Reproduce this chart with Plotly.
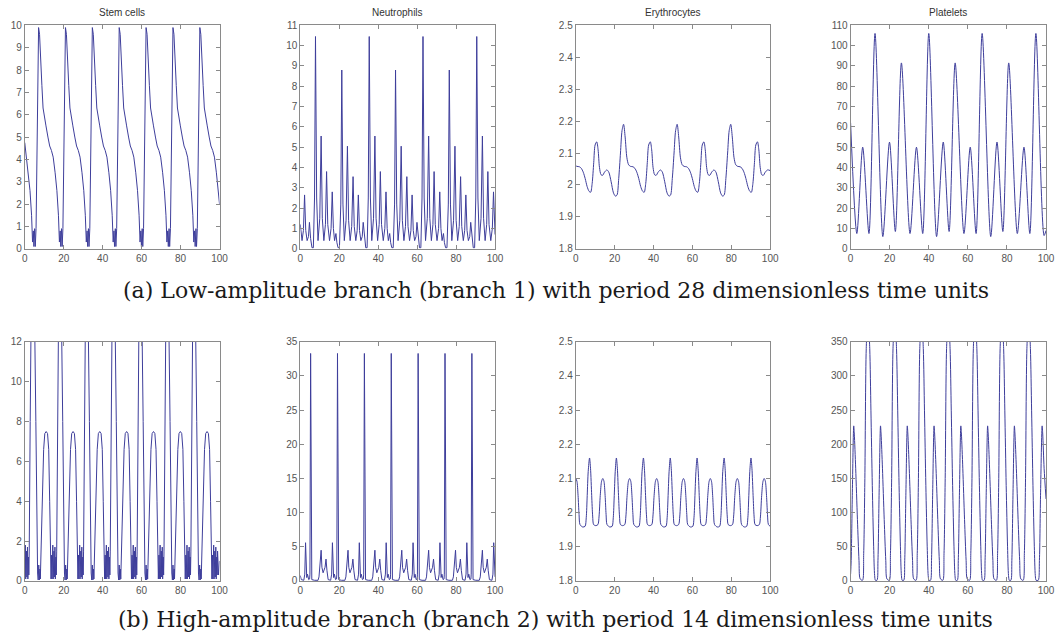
import plotly.graph_objects as go

# ---------------- data ----------------
# (a) Stem cells
a1_x = [0, 0.8, 1.8, 2.7, 3.5, 4.0, 4.4, 4.7, 5.1, 5.4, 5.8, 6.3, 6.7,
        7.1, 7.6, 8.2, 8.8, 9.4, 10.1, 10.9, 11.9, 12.8, 13.7, 14.6, 15.6, 16.5, 17.3, 17.8, 18.2, 18.5, 18.9, 19.2, 19.6, 20.1, 20.5,
        20.9, 21.4, 22.0, 22.6, 23.2, 23.9, 24.7, 25.7, 26.6, 27.5, 28.4, 29.4, 30.3, 31.1, 31.6, 32.0, 32.3, 32.7, 33.0, 33.4, 33.9, 34.3,
        34.7, 35.2, 35.8, 36.4, 37.0, 37.7, 38.5, 39.5, 40.4, 41.3, 42.2, 43.2, 44.1, 44.9, 45.4, 45.8, 46.1, 46.5, 46.8, 47.2, 47.7, 48.1,
        48.5, 49.0, 49.6, 50.2, 50.8, 51.5, 52.3, 53.3, 54.2, 55.1, 56.0, 57.0, 57.9, 58.7, 59.2, 59.6, 59.9, 60.3, 60.6, 61.0, 61.5, 61.9,
        62.3, 62.8, 63.4, 64.0, 64.6, 65.3, 66.1, 67.1, 68.0, 68.9, 69.8, 70.8, 71.7, 72.5, 73.0, 73.4, 73.7, 74.1, 74.4, 74.8, 75.3, 75.7,
        76.1, 76.6, 77.2, 77.8, 78.4, 79.1, 79.9, 80.9, 81.8, 82.7, 83.6, 84.6, 85.5, 86.3, 86.8, 87.2, 87.5, 87.9, 88.2, 88.6, 89.1, 89.5,
        89.9, 90.4, 91.0, 91.6, 92.2, 92.9, 93.7, 94.7, 95.6, 96.5, 97.4, 98.4, 99.3, 100.0]
a1_y = [4.75, 4.1, 3.4, 2.6, 1.5, 0.3, 0.8, 0.1, 0.9, 0.1, 0.9, 4.5, 8.3,
        9.9, 9.6, 8.7, 7.3, 6.3, 5.8, 5.5, 5.0, 4.6, 4.4, 4.1, 3.4, 2.6, 1.5, 0.3, 0.8, 0.1, 0.9, 0.1, 0.9, 4.5, 8.3,
        9.9, 9.6, 8.7, 7.3, 6.3, 5.8, 5.5, 5.0, 4.6, 4.4, 4.1, 3.4, 2.6, 1.5, 0.3, 0.8, 0.1, 0.9, 0.1, 0.9, 4.5, 8.3,
        9.9, 9.6, 8.7, 7.3, 6.3, 5.8, 5.5, 5.0, 4.6, 4.4, 4.1, 3.4, 2.6, 1.5, 0.3, 0.8, 0.1, 0.9, 0.1, 0.9, 4.5, 8.3,
        9.9, 9.6, 8.7, 7.3, 6.3, 5.8, 5.5, 5.0, 4.6, 4.4, 4.1, 3.4, 2.6, 1.5, 0.3, 0.8, 0.1, 0.9, 0.1, 0.9, 4.5, 8.3,
        9.9, 9.6, 8.7, 7.3, 6.3, 5.8, 5.5, 5.0, 4.6, 4.4, 4.1, 3.4, 2.6, 1.5, 0.3, 0.8, 0.1, 0.9, 0.1, 0.9, 4.5, 8.3,
        9.9, 9.6, 8.7, 7.3, 6.3, 5.8, 5.5, 5.0, 4.6, 4.4, 4.1, 3.4, 2.6, 1.5, 0.3, 0.8, 0.1, 0.9, 0.1, 0.9, 4.5, 8.3,
        9.9, 9.6, 8.7, 7.3, 6.3, 5.8, 5.5, 5.0, 4.6, 4.4, 4.1, 3.4, 2.6, 2.0]

# (a) Neutrophils
a2_x = [0, 0.9, 1.6, 2.2, 2.8, 3.5, 4.2, 4.7, 5.3, 6.0, 6.7, 7.3,
        7.8, 8.4, 9.1, 10.0, 10.7, 11.3, 12.1, 12.9, 13.5, 14.1, 15.0, 15.8, 16.4, 17.0, 17.6, 18.3, 18.8, 19.4, 20.1, 20.8,
        21.3, 21.9, 22.6, 23.5, 24.2, 24.8, 25.6, 26.4, 27.1, 27.7, 28.5, 29.2, 29.8, 30.4, 31.1, 31.8, 32.3, 32.9, 33.6, 34.3, 34.9,
        35.4, 36.0, 36.7, 37.6, 38.3, 38.9, 39.7, 40.5, 41.1, 41.7, 42.6, 43.4, 44.0, 44.6, 45.2, 45.9, 46.4, 47.0, 47.7, 48.4,
        48.9, 49.5, 50.2, 51.1, 51.8, 52.4, 53.2, 54.0, 54.7, 55.3, 56.1, 56.8, 57.4, 58.0, 58.7, 59.4, 59.9, 60.5, 61.2, 61.9, 62.5,
        63.0, 63.6, 64.3, 65.2, 65.9, 66.5, 67.3, 68.1, 68.7, 69.3, 70.2, 71.0, 71.6, 72.2, 72.8, 73.5, 74.0, 74.6, 75.3, 76.0,
        76.5, 77.1, 77.8, 78.7, 79.4, 80.0, 80.8, 81.6, 82.3, 82.9, 83.7, 84.4, 85.0, 85.6, 86.3, 87.0, 87.5, 88.1, 88.8, 89.5, 90.1,
        90.6, 91.2, 91.9, 92.8, 93.5, 94.1, 94.9, 95.7, 96.3, 96.9, 97.8, 98.6, 99.2, 99.8, 100.0]
a2_y = [1.2, 0.4, 0.9, 2.65, 0.9, 0.4, 0.6, 1.3, 0.5, 0.05, 0.05, 2.5,
        10.45, 2.5, 0.4, 1.5, 5.55, 1.5, 0.4, 1.2, 3.8, 1.2, 0.4, 1.0, 2.8, 1.0, 0.4, 0.75, 0.3, 0.05, 0.05, 2.2,
        8.8, 2.2, 0.4, 1.4, 5.05, 1.4, 0.4, 1.1, 3.55, 1.1, 0.4, 0.9, 2.65, 0.9, 0.4, 0.6, 1.3, 0.5, 0.05, 0.05, 2.5,
        10.45, 2.5, 0.4, 1.5, 5.55, 1.5, 0.4, 1.2, 3.8, 1.2, 0.4, 1.0, 2.8, 1.0, 0.4, 0.75, 0.3, 0.05, 0.05, 2.2,
        8.8, 2.2, 0.4, 1.4, 5.05, 1.4, 0.4, 1.1, 3.55, 1.1, 0.4, 0.9, 2.65, 0.9, 0.4, 0.6, 1.3, 0.5, 0.05, 0.05, 2.5,
        10.45, 2.5, 0.4, 1.5, 5.55, 1.5, 0.4, 1.2, 3.8, 1.2, 0.4, 1.0, 2.8, 1.0, 0.4, 0.75, 0.3, 0.05, 0.05, 2.2,
        8.8, 2.2, 0.4, 1.4, 5.05, 1.4, 0.4, 1.1, 3.55, 1.1, 0.4, 0.9, 2.65, 0.9, 0.4, 0.6, 1.3, 0.5, 0.05, 0.05, 2.5,
        10.45, 2.5, 0.4, 1.5, 5.55, 1.5, 0.4, 1.2, 3.8, 1.2, 0.4, 1.0, 2.8, 1.0, 0.7]

# (a) Erythrocytes
a3_x = [0, 0.65, 1.85, 2.85, 3.85, 4.85, 5.85, 6.85, 7.65, 8.45, 9.25, 9.95,
        10.8, 11.5, 12.2, 13.0, 13.8, 14.8, 16.0, 17.0, 18.2, 19.4, 20.4, 21.2, 22.1, 23.0, 23.8,
        24.6, 25.4, 26.3, 27.2, 28.2, 29.4, 30.4, 31.4, 32.4, 33.4, 34.4, 35.2, 36.0, 36.8, 37.5,
        38.35, 39.05, 39.75, 40.55, 41.35, 42.35, 43.55, 44.55, 45.75, 46.95, 47.95, 48.75, 49.65, 50.55, 51.35,
        52.15, 52.95, 53.85, 54.75, 55.75, 56.95, 57.95, 58.95, 59.95, 60.95, 61.95, 62.75, 63.55, 64.35, 65.05,
        65.9, 66.6, 67.3, 68.1, 68.9, 69.9, 71.1, 72.1, 73.3, 74.5, 75.5, 76.3, 77.2, 78.1, 78.9,
        79.7, 80.5, 81.4, 82.3, 83.3, 84.5, 85.5, 86.5, 87.5, 88.5, 89.5, 90.3, 91.1, 91.9, 92.6,
        93.45, 94.15, 94.85, 95.65, 96.45, 97.45, 98.65, 100.0]
a3_y = [2.06, 2.058, 2.057, 2.052, 2.04, 2.02, 1.995, 1.98, 1.977, 2.005, 2.07, 2.125,
        2.135, 2.11, 2.055, 2.032, 2.03, 2.04, 2.047, 2.04, 2.01, 1.975, 1.965, 1.968, 2.02, 2.1, 2.17,
        2.19, 2.15, 2.085, 2.063, 2.058, 2.057, 2.052, 2.04, 2.02, 1.995, 1.98, 1.977, 2.005, 2.07, 2.125,
        2.135, 2.11, 2.055, 2.032, 2.03, 2.04, 2.047, 2.04, 2.01, 1.975, 1.965, 1.968, 2.02, 2.1, 2.17,
        2.19, 2.15, 2.085, 2.063, 2.058, 2.057, 2.052, 2.04, 2.02, 1.995, 1.98, 1.977, 2.005, 2.07, 2.125,
        2.135, 2.11, 2.055, 2.032, 2.03, 2.04, 2.047, 2.04, 2.01, 1.975, 1.965, 1.968, 2.02, 2.1, 2.17,
        2.19, 2.15, 2.085, 2.063, 2.058, 2.057, 2.052, 2.04, 2.02, 1.995, 1.98, 1.977, 2.005, 2.07, 2.125,
        2.135, 2.11, 2.055, 2.032, 2.03, 2.04, 2.047, 2.045]

# (a) Platelets
a4_x = [0, 3.2, 6.2, 9.4, 12.5, 16.5, 19.9, 22.9, 26.0, 30.4, 33.7, 36.9, 40.0, 44.0, 47.4, 50.4,
        53.5, 58.0, 61.2, 64.2, 67.3, 71.7, 74.9, 77.9, 80.9, 85.3, 88.7, 91.7, 94.8, 99.0, 100.0]
a4_y = [62, 7.5, 50, 7.5, 106, 6, 52.5, 8.5, 91.5, 7.5, 50, 7.5, 106, 6, 52.5, 8.5,
        91.5, 7.5, 50, 7.5, 106, 6, 52.5, 8.5, 91.5, 7.5, 50, 7.5, 106, 6.5, 9]

# (b) Stem cells
b1_x = [0, 0.3, 0.5, 0.9, 1.1, 1.4, 1.6, 1.9, 2.1, 2.3, 2.8, 3.15,
        4.4, 5.2, 5.7, 6.2, 6.6, 6.9, 7.2, 7.5, 7.8, 8.0, 8.4, 8.6, 8.8, 9.2, 9.7, 10.3, 11.0, 11.7, 12.3, 12.8, 13.2, 13.5, 13.8, 14.0, 14.4, 14.6, 15.0, 15.2, 15.5, 15.7, 16.0, 16.2, 16.4, 16.9, 17.25,
        18.2, 19.0, 19.5, 20.0, 20.4, 20.7, 21.0, 21.3, 21.6, 21.8, 22.2, 22.4, 22.6, 23.0, 23.5, 24.1, 24.8, 25.5, 26.1, 26.6, 27.0, 27.3, 27.6, 27.8, 28.2, 28.4, 28.8, 29.0, 29.3, 29.5, 29.8, 30.0, 30.2, 30.7, 31.05,
        31.9, 32.7, 33.2, 33.7, 34.1, 34.4, 34.7, 35.0, 35.3, 35.5, 35.9, 36.1, 36.3, 36.7, 37.2, 37.8, 38.5, 39.2, 39.8, 40.3, 40.7, 41.0, 41.3, 41.5, 41.9, 42.1, 42.5, 42.7, 43.0, 43.2, 43.5, 43.7, 43.9, 44.4, 44.75,
        45.7, 46.5, 47.0, 47.5, 47.9, 48.2, 48.5, 48.8, 49.1, 49.3, 49.7, 49.9, 50.1, 50.5, 51.0, 51.6, 52.3, 53.0, 53.6, 54.1, 54.5, 54.8, 55.1, 55.3, 55.7, 55.9, 56.3, 56.5, 56.8, 57.0, 57.3, 57.5, 57.7, 58.2, 58.55,
        59.5, 60.3, 60.8, 61.3, 61.7, 62.0, 62.3, 62.6, 62.9, 63.1, 63.5, 63.7, 63.9, 64.3, 64.8, 65.4, 66.1, 66.8, 67.4, 67.9, 68.3, 68.6, 68.9, 69.1, 69.5, 69.7, 70.1, 70.3, 70.6, 70.8, 71.1, 71.3, 71.5, 72.0, 72.35,
        73.3, 74.1, 74.6, 75.1, 75.5, 75.8, 76.1, 76.4, 76.7, 76.9, 77.3, 77.5, 77.7, 78.1, 78.6, 79.2, 79.9, 80.6, 81.2, 81.7, 82.1, 82.4, 82.7, 82.9, 83.3, 83.5, 83.9, 84.1, 84.4, 84.6, 84.9, 85.1, 85.3, 85.8, 86.15,
        87.0, 87.8, 88.3, 88.8, 89.2, 89.5, 89.8, 90.1, 90.4, 90.6, 91.0, 91.2, 91.4, 91.8, 92.3, 92.9, 93.6, 94.3, 94.9, 95.4, 95.8, 96.1, 96.4, 96.6, 97.0, 97.2, 97.6, 97.8, 98.1, 98.3, 98.6, 98.8, 99.0, 99.5, 100.0]
b1_y = [0.3, 1.8, 0.1, 1.5, 0.2, 1.7, 0.1, 1.2, 0.3, 1.5, 8, 12,
        13.5, 12, 8, 3, 0.4, 0.05, 0.8, 0.05, 0.6, 0.1, 1.8, 2.3, 2.2, 4.5, 6.6, 7.4, 7.5, 7.4, 6.6, 4.0, 1.0, 0.1, 1.3, 0.1, 1.8, 0.1, 1.5, 0.2, 1.7, 0.1, 1.2, 0.3, 1.5, 8, 12,
        13.5, 12, 8, 3, 0.4, 0.05, 0.8, 0.05, 0.6, 0.1, 1.8, 2.3, 2.2, 4.5, 6.6, 7.4, 7.5, 7.4, 6.6, 4.0, 1.0, 0.1, 1.3, 0.1, 1.8, 0.1, 1.5, 0.2, 1.7, 0.1, 1.2, 0.3, 1.5, 8, 12,
        13.5, 12, 8, 3, 0.4, 0.05, 0.8, 0.05, 0.6, 0.1, 1.8, 2.3, 2.2, 4.5, 6.6, 7.4, 7.5, 7.4, 6.6, 4.0, 1.0, 0.1, 1.3, 0.1, 1.8, 0.1, 1.5, 0.2, 1.7, 0.1, 1.2, 0.3, 1.5, 8, 12,
        13.5, 12, 8, 3, 0.4, 0.05, 0.8, 0.05, 0.6, 0.1, 1.8, 2.3, 2.2, 4.5, 6.6, 7.4, 7.5, 7.4, 6.6, 4.0, 1.0, 0.1, 1.3, 0.1, 1.8, 0.1, 1.5, 0.2, 1.7, 0.1, 1.2, 0.3, 1.5, 8, 12,
        13.5, 12, 8, 3, 0.4, 0.05, 0.8, 0.05, 0.6, 0.1, 1.8, 2.3, 2.2, 4.5, 6.6, 7.4, 7.5, 7.4, 6.6, 4.0, 1.0, 0.1, 1.3, 0.1, 1.8, 0.1, 1.5, 0.2, 1.7, 0.1, 1.2, 0.3, 1.5, 8, 12,
        13.5, 12, 8, 3, 0.4, 0.05, 0.8, 0.05, 0.6, 0.1, 1.8, 2.3, 2.2, 4.5, 6.6, 7.4, 7.5, 7.4, 6.6, 4.0, 1.0, 0.1, 1.3, 0.1, 1.8, 0.1, 1.5, 0.2, 1.7, 0.1, 1.2, 0.3, 1.5, 8, 12,
        13.5, 12, 8, 3, 0.4, 0.05, 0.8, 0.05, 0.6, 0.1, 1.8, 2.3, 2.2, 4.5, 6.6, 7.4, 7.5, 7.4, 6.6, 4.0, 1.0, 0.1, 1.3, 0.1, 1.8, 0.1, 1.5, 0.2, 1.7, 0.1, 1.2, 0.3, 1.5, 0.3, 1.0]

# (b) Neutrophils
b2_x = [0, 0.5, 1.8, 2.3, 2.7, 3.0, 3.3, 3.7, 4.3, 4.8, 4.95,
        5.3, 5.65, 5.9, 7.3, 9.1, 9.6, 10.0, 10.3, 10.7, 11.1, 11.7, 12.7, 13.2, 13.7, 14.3, 15.6, 16.1, 16.5, 16.8, 17.1, 17.5, 18.1, 18.6, 18.75,
        19.1, 19.45, 19.7, 21.1, 22.9, 23.4, 23.8, 24.1, 24.5, 24.9, 25.5, 26.5, 27.0, 27.5, 28.1, 29.4, 29.9, 30.3, 30.6, 30.9, 31.3, 31.9, 32.4, 32.55,
        32.9, 33.25, 33.5, 34.9, 36.7, 37.2, 37.6, 37.9, 38.3, 38.7, 39.3, 40.3, 40.8, 41.3, 41.9, 43.2, 43.7, 44.1, 44.4, 44.7, 45.1, 45.7, 46.2, 46.35,
        46.7, 47.05, 47.3, 48.7, 50.5, 51.0, 51.4, 51.7, 52.1, 52.5, 53.1, 54.1, 54.6, 55.1, 55.7, 57.0, 57.5, 57.9, 58.2, 58.5, 58.9, 59.5, 60.0, 60.15,
        60.5, 60.85, 61.1, 62.5, 64.3, 64.8, 65.2, 65.5, 65.9, 66.3, 66.9, 67.9, 68.4, 68.9, 69.5, 70.8, 71.3, 71.7, 72.0, 72.3, 72.7, 73.3, 73.8, 73.95,
        74.3, 74.65, 74.9, 76.3, 78.1, 78.6, 79.0, 79.3, 79.7, 80.1, 80.7, 81.7, 82.2, 82.7, 83.3, 84.6, 85.1, 85.5, 85.8, 86.1, 86.5, 87.1, 87.6, 87.75,
        88.1, 88.45, 88.7, 90.1, 91.9, 92.4, 92.8, 93.1, 93.5, 93.9, 94.5, 95.5, 96.0, 96.5, 97.1, 98.4, 98.9, 99.3, 99.6, 100.0]
b2_y = [0.8, 0.2, 0.1, 1.0, 5.6, 1.0, 0.5, 1.0, 0.2, 0.3, 1.0,
        33.3, 1.0, 0.2, 0.1, 0.1, 0.6, 1.9, 2.2, 4.5, 2.0, 1.2, 2.0, 3.2, 1.5, 0.2, 0.1, 1.0, 5.6, 1.0, 0.5, 1.0, 0.2, 0.3, 1.0,
        33.3, 1.0, 0.2, 0.1, 0.1, 0.6, 1.9, 2.2, 4.5, 2.0, 1.2, 2.0, 3.2, 1.5, 0.2, 0.1, 1.0, 5.6, 1.0, 0.5, 1.0, 0.2, 0.3, 1.0,
        33.3, 1.0, 0.2, 0.1, 0.1, 0.6, 1.9, 2.2, 4.5, 2.0, 1.2, 2.0, 3.2, 1.5, 0.2, 0.1, 1.0, 5.6, 1.0, 0.5, 1.0, 0.2, 0.3, 1.0,
        33.3, 1.0, 0.2, 0.1, 0.1, 0.6, 1.9, 2.2, 4.5, 2.0, 1.2, 2.0, 3.2, 1.5, 0.2, 0.1, 1.0, 5.6, 1.0, 0.5, 1.0, 0.2, 0.3, 1.0,
        33.3, 1.0, 0.2, 0.1, 0.1, 0.6, 1.9, 2.2, 4.5, 2.0, 1.2, 2.0, 3.2, 1.5, 0.2, 0.1, 1.0, 5.6, 1.0, 0.5, 1.0, 0.2, 0.3, 1.0,
        33.3, 1.0, 0.2, 0.1, 0.1, 0.6, 1.9, 2.2, 4.5, 2.0, 1.2, 2.0, 3.2, 1.5, 0.2, 0.1, 1.0, 5.6, 1.0, 0.5, 1.0, 0.2, 0.3, 1.0,
        33.3, 1.0, 0.2, 0.1, 0.1, 0.6, 1.9, 2.2, 4.5, 2.0, 1.2, 2.0, 3.2, 1.5, 0.2, 0.1, 1.0, 5.6, 1.0, 0.6]

# (b) Erythrocytes
b3_x = [0, 0.6, 1.2, 1.7, 2.2, 3.6, 4.8, 5.4, 5.9, 6.4,
        7.1, 7.6, 8.2, 8.7, 9.2, 10.3, 11.4, 12.0, 12.6, 13.3, 13.9, 14.5, 15.1, 15.6, 16.1, 17.5, 18.7, 19.3, 19.8, 20.3,
        20.9, 21.4, 22.0, 22.5, 23.0, 24.1, 25.2, 25.8, 26.4, 27.1, 27.7, 28.3, 28.9, 29.4, 29.9, 31.3, 32.5, 33.1, 33.6, 34.1,
        34.8, 35.3, 35.9, 36.4, 36.9, 38.0, 39.1, 39.7, 40.3, 41.0, 41.6, 42.2, 42.8, 43.3, 43.8, 45.2, 46.4, 47.0, 47.5, 48.0,
        48.6, 49.1, 49.7, 50.2, 50.7, 51.8, 52.9, 53.5, 54.1, 54.8, 55.4, 56.0, 56.6, 57.1, 57.6, 59.0, 60.2, 60.8, 61.3, 61.8,
        62.4, 62.9, 63.5, 64.0, 64.5, 65.6, 66.7, 67.3, 67.9, 68.6, 69.2, 69.8, 70.4, 70.9, 71.4, 72.8, 74.0, 74.6, 75.1, 75.6,
        76.3, 76.8, 77.4, 77.9, 78.4, 79.5, 80.6, 81.2, 81.8, 82.5, 83.1, 83.7, 84.3, 84.8, 85.3, 86.7, 87.9, 88.5, 89.0, 89.5,
        90.1, 90.6, 91.2, 91.7, 92.2, 93.3, 94.4, 95.0, 95.6, 96.3, 96.9, 97.5, 98.1, 98.6, 99.1, 100.0]
b3_y = [2.10, 2.092, 2.05, 1.995, 1.965, 1.958, 1.96, 1.985, 2.05, 2.12,
        2.16, 2.13, 2.05, 1.99, 1.965, 1.962, 1.965, 1.99, 2.05, 2.092, 2.10, 2.092, 2.05, 1.995, 1.965, 1.958, 1.96, 1.985, 2.05, 2.12,
        2.16, 2.13, 2.05, 1.99, 1.965, 1.962, 1.965, 1.99, 2.05, 2.092, 2.10, 2.092, 2.05, 1.995, 1.965, 1.958, 1.96, 1.985, 2.05, 2.12,
        2.16, 2.13, 2.05, 1.99, 1.965, 1.962, 1.965, 1.99, 2.05, 2.092, 2.10, 2.092, 2.05, 1.995, 1.965, 1.958, 1.96, 1.985, 2.05, 2.12,
        2.16, 2.13, 2.05, 1.99, 1.965, 1.962, 1.965, 1.99, 2.05, 2.092, 2.10, 2.092, 2.05, 1.995, 1.965, 1.958, 1.96, 1.985, 2.05, 2.12,
        2.16, 2.13, 2.05, 1.99, 1.965, 1.962, 1.965, 1.99, 2.05, 2.092, 2.10, 2.092, 2.05, 1.995, 1.965, 1.958, 1.96, 1.985, 2.05, 2.12,
        2.16, 2.13, 2.05, 1.99, 1.965, 1.962, 1.965, 1.99, 2.05, 2.092, 2.10, 2.092, 2.05, 1.995, 1.965, 1.958, 1.96, 1.985, 2.05, 2.12,
        2.16, 2.13, 2.05, 1.99, 1.965, 1.962, 1.965, 1.99, 2.05, 2.092, 2.10, 2.092, 2.05, 1.995, 1.965, 1.96]

# (b) Platelets
b4_x = [0, 0.3, 0.9, 1.6, 1.9, 2.6, 3.5, 4.3, 4.9, 6.1, 6.7, 7.3, 8.0,
        8.9, 9.8, 10.4, 11.1, 11.8, 12.3, 12.7, 13.5, 14.0, 14.6, 15.3, 15.6, 16.3, 17.2, 18.0, 18.6, 19.8, 20.4, 21.0, 21.7,
        22.6, 23.5, 24.1, 24.8, 25.5, 26.0, 26.4, 27.2, 27.7, 28.3, 29.0, 29.3, 30.0, 30.9, 31.7, 32.3, 33.5, 34.1, 34.7, 35.4,
        36.3, 37.2, 37.8, 38.5, 39.2, 39.7, 40.1, 40.9, 41.4, 42.0, 42.7, 43.0, 43.7, 44.6, 45.4, 46.0, 47.2, 47.8, 48.4, 49.1,
        50.0, 50.9, 51.5, 52.2, 52.9, 53.4, 53.8, 54.6, 55.1, 55.7, 56.4, 56.7, 57.4, 58.3, 59.1, 59.7, 60.9, 61.5, 62.1, 62.8,
        63.7, 64.6, 65.2, 65.9, 66.6, 67.1, 67.5, 68.3, 68.8, 69.4, 70.1, 70.4, 71.1, 72.0, 72.8, 73.4, 74.6, 75.2, 75.8, 76.5,
        77.4, 78.3, 78.9, 79.6, 80.3, 80.8, 81.2, 82.0, 82.5, 83.1, 83.8, 84.1, 84.8, 85.7, 86.5, 87.1, 88.3, 88.9, 89.5, 90.2,
        91.1, 92.0, 92.6, 93.3, 94.0, 94.5, 94.9, 96.0, 96.6, 97.2, 98.0, 98.3, 99.0, 100.0]
b4_y = [10, 30, 130, 227, 215, 165, 90, 30, 3, 1, 40, 150, 340,
        390, 340, 250, 140, 50, 8, 1, 1, 30, 130, 227, 215, 165, 90, 30, 3, 1, 40, 150, 340,
        390, 340, 250, 140, 50, 8, 1, 1, 30, 130, 227, 215, 165, 90, 30, 3, 1, 40, 150, 340,
        390, 340, 250, 140, 50, 8, 1, 1, 30, 130, 227, 215, 165, 90, 30, 3, 1, 40, 150, 340,
        390, 340, 250, 140, 50, 8, 1, 1, 30, 130, 227, 215, 165, 90, 30, 3, 1, 40, 150, 340,
        390, 340, 250, 140, 50, 8, 1, 1, 30, 130, 227, 215, 165, 90, 30, 3, 1, 40, 150, 340,
        390, 340, 250, 140, 50, 8, 1, 1, 30, 130, 227, 215, 165, 90, 30, 3, 1, 40, 150, 340,
        390, 340, 250, 140, 50, 8, 1, 1, 30, 130, 227, 215, 165, 120]

titles = ["Stem cells", "Neutrophils", "Erythrocytes", "Platelets"]
captions = ["(a) Low-amplitude branch (branch 1) with period 28 dimensionless time units",
            "(b) High-amplitude branch (branch 2) with period 14 dimensionless time units"]
x_ticks = [0, 20, 40, 60, 80, 100]

# ---------------- layout ----------------
W, H = 1060, 643
col_px = [(22, 219), (300.7, 497.7), (579.3, 776), (857.3, 1055)]
row_px = [(20.7, 248), (342.7, 586)]

panels = [
    (0, 0, a1_x, a1_y, [0, 10], 1, False),
    (0, 1, a2_x, a2_y, [0, 11], 1, False),
    (0, 2, a3_x, a3_y, [1.8, 2.5], 0.1, True),
    (0, 3, a4_x, a4_y, [0, 110], 10, True),
    (1, 0, b1_x, b1_y, [0, 12], 2, False),
    (1, 1, b2_x, b2_y, [0, 35], 5, False),
    (1, 2, b3_x, b3_y, [1.8, 2.5], 0.1, True),
    (1, 3, b4_x, b4_y, [0, 350], 50, True),
]

LINE = "rgb(62,62,155)"
AX = "#8a8a8a"
TICKFONT = dict(family="Liberation Sans, Arial, sans-serif", size=10, color="#555555")

fig = go.Figure()
layout = dict(width=W, height=H, margin=dict(l=0, r=0, t=0, b=0),
              paper_bgcolor="white", plot_bgcolor="white", showlegend=False)
annotations = []

for i, (r, c, xs, ys, yr, dt, smooth) in enumerate(panels, start=1):
    xd = [col_px[c][0] / W, col_px[c][1] / W]
    yd = [(H - row_px[r][1]) / H, (H - row_px[r][0]) / H]
    line = dict(color=LINE, width=1)
    if smooth:
        line.update(shape="spline", smoothing=0.8)
    fig.add_trace(go.Scatter(x=xs, y=ys, mode="lines", line=line,
                             xaxis=f"x{i}", yaxis=f"y{i}", hoverinfo="skip"))
    common = dict(showline=True, linecolor=AX, linewidth=1, mirror="ticks",
                  ticks="inside", ticklen=4, tickcolor=AX, tickwidth=1,
                  showgrid=False, zeroline=False, tickfont=TICKFONT, fixedrange=True)
    layout[f"xaxis{i}"] = dict(domain=xd, anchor=f"y{i}", range=[0, 100],
                               tickvals=x_ticks, **common)
    layout[f"yaxis{i}"] = dict(domain=yd, anchor=f"x{i}", range=yr,
                               tick0=yr[0], dtick=dt, **common)
    if r == 0:
        annotations.append(dict(text=titles[c], x=(xd[0] + xd[1]) / 2, y=(H - 8) / H,
                                xref="paper", yref="paper", showarrow=False,
                                xanchor="center", yanchor="middle",
                                font=dict(family="Liberation Sans, Arial, sans-serif",
                                          size=10, color="#333333")))

cap_y = [290, 625]
for k, txt in enumerate(captions):
    annotations.append(dict(text=txt, x=559 / W, y=(H - cap_y[k]) / H,
                            xref="paper", yref="paper", showarrow=False,
                            xanchor="center", yanchor="middle",
                            font=dict(family="DejaVu Serif, serif", size=22, color="#1a1a1a")))

layout["annotations"] = annotations
fig.update_layout(**layout)
fig.write_html("out.html")
